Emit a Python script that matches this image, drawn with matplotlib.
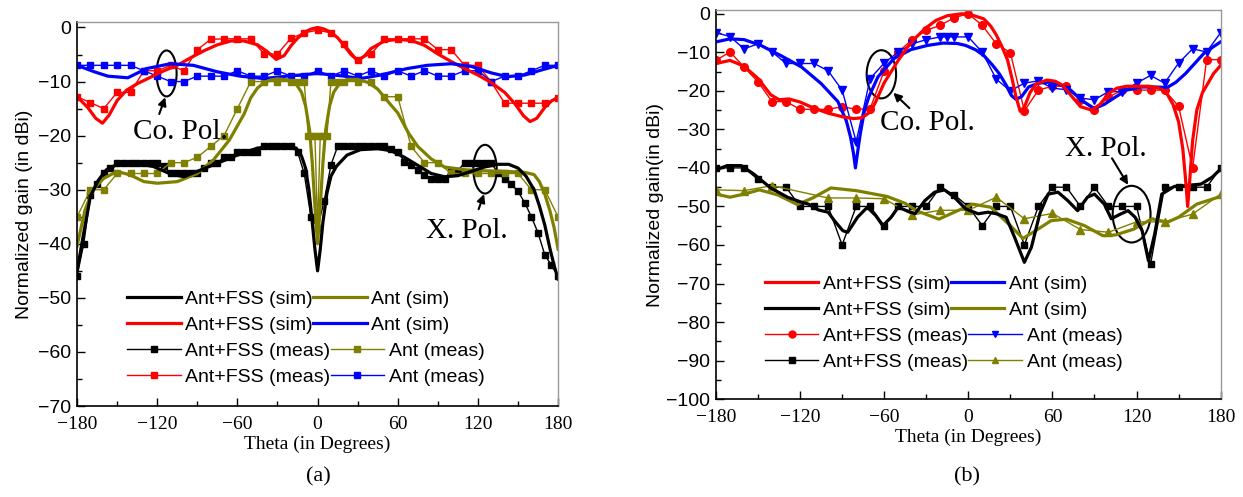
import matplotlib
matplotlib.use("Agg")
import matplotlib.pyplot as plt
from matplotlib.patches import Ellipse
from matplotlib.lines import Line2D
from matplotlib.legend import Legend

plt.rcParams['font.family'] = ['Liberation Sans', 'DejaVu Sans']
SERIF = ['Liberation Serif', 'DejaVu Serif']

RED = '#FF0000'
BLUE = '#0000FF'
BLACK = '#000000'
OLIVE = '#808000'

# ---------------- Panel (a) data ----------------
a_red_sim_th = [-180, -172, -166, -161, -156, -150, -143, -135, -125, -115, -105, -95, -85, -75, -65, -55, -45, -38, -31,
                -25, -20, -15, -10, -5, 0, 5, 10, 15, 20, 25, 30, 35, 40, 50, 60, 70, 80, 90, 100, 110, 120, 130, 140,
                148, 154, 159, 164, 170, 175, 180]
a_red_sim = [-12.8, -14.8, -16.8, -17.7, -16.2, -13.5, -11.6, -10.4, -9.2, -8.0, -7.0, -5.6, -4.3, -3.2, -2.5, -2.5, -3.2,
             -4.4, -5.9, -5.2, -3.4, -2.0, -0.9, -0.3, 0.0, -0.3, -0.9, -1.9, -3.4, -5.0, -6.1, -5.3, -3.9, -2.5, -2.2,
             -2.4, -3.3, -4.9, -6.3, -7.6, -8.8, -10.2, -12.0, -14.2, -16.3, -17.4, -16.8, -14.8, -13.6, -12.9]

a_blue_sim_th = [-180, -167, -157, -142, -128, -110, -93, -75, -58, -40, -23, 0, 20, 32, 47, 67, 82, 100, 115, 130, 142,
                 155, 167, 180]
a_blue_sim = [-7.0, -8.2, -9.0, -9.3, -7.6, -6.7, -7.0, -8.2, -9.0, -9.45, -9.0, -8.5, -9.0, -9.45, -8.8, -7.6, -7.0, -6.7,
              -7.2, -8.4, -9.1, -8.8, -7.9, -7.0]

a_black_sim_th = [-180, -175, -170, -164, -158, -148, -135, -123, -110, -100, -90, -75, -60, -45, -30, -16, -12, -9, -6.5,
                  -4, -2, 0, 2, 4, 7, 10, 14, 22, 32, 45, 55, 65, 75, 85, 95, 105, 115, 125, 135, 143, 150, 156, 162, 166,
                  170, 174, 177, 180]
a_black_sim = [-45.0, -38.0, -31.2, -28.2, -26.3, -25.1, -25.2, -25.7, -27.1, -27.6, -26.6, -25.1, -23.6, -22.3, -21.9,
               -22.3, -23.8, -26.0, -30.0, -36.0, -41.0, -45.0, -41.0, -36.0, -30.6, -27.5, -25.7, -23.6, -22.6, -22.4,
               -22.8, -24.0, -25.5, -27.0, -27.6, -27.4, -26.6, -25.8, -25.3, -25.3, -26.0, -27.5, -30.0, -33.0, -36.5,
               -41.0, -44.0, -46.5]

a_olive_sim_th = [-180, -174, -168, -160, -150, -140, -130, -120, -105, -90, -78, -66, -55, -50, -45, -40, -35, -30, -22,
                  -16, -12, -9, -6, -4, -2, 0, 2, 4, 6, 9, 12, 16, 22, 30, 38, 45, 52, 60, 68, 75, 85, 95, 110, 125, 140,
                  155, 162, 166, 170, 174, 177, 180]
a_olive_sim = [-40.4, -33.7, -29.9, -27.9, -26.6, -27.3, -28.5, -28.8, -28.5, -27.0, -24.5, -20.8, -16.0, -13.0, -11.2,
               -10.2, -9.7, -9.5, -9.7, -10.5, -12.0, -14.5, -19.0, -25.0, -33.0, -40.0, -33.0, -25.0, -19.0, -14.5,
               -12.0, -10.5, -9.6, -9.6, -10.2, -11.4, -13.5, -15.8, -19.5, -22.0, -24.3, -25.8, -26.3, -26.5, -26.6,
               -26.8, -27.2, -28.5, -30.8, -34.0, -37.0, -41.0]

a_meas10_th = [-180, -170, -160, -150, -140, -130, -120, -110, -100, -90, -80, -70, -60, -50, -40, -30, -20, -10, 0, 10,
               20, 30, 40, 50, 60, 70, 80, 90, 100, 110, 120, 130, 140, 150, 160, 170, 180]
a_red_meas = [-12.8, -13.9, -15.0, -12.0, -12.0, -8.0, -8.0, -7.0, -8.0, -4.1, -2.2, -2.1, -2.1, -2.1, -4.9, -4.9, -2.0,
              -1.0, -0.5, -1.0, -3.0, -6.0, -4.9, -2.1, -2.1, -2.1, -2.1, -4.1, -4.1, -7.0, -7.0, -10.1, -14.0, -14.0,
              -14.0, -14.0, -13.0]
a_blue_meas = [-7, -7, -7, -7, -7, -8, -9, -10, -10, -9, -9, -9, -8, -9, -9, -8, -9, -9, -8, -9, -8, -9, -8, -9, -8, -9,
               -8, -9, -9, -8, -8, -10, -9, -9, -8, -7, -7]

a_black_meas_th = [-180, -175, -170, -165, -160, -155, -150, -145, -140, -135, -130, -125, -120, -115, -110, -105, -100,
                   -95, -90, -85, -80, -75, -70, -65, -60, -55, -50, -45, -40, -35, -30, -25, -20, -15, -10, -5, 0, 5,
                   10, 15, 20, 25, 30, 35, 40, 45, 50, 55, 60, 65, 70, 75, 80, 85, 90, 95, 100, 105, 110, 115, 120, 125,
                   130, 135, 140, 145, 150, 155, 160, 165, 170, 175, 180]
a_black_meas = [-46, -40, -31, -29, -27, -26, -25, -25, -25, -25, -25, -25, -25, -25.7, -27, -27, -27, -27, -27, -26, -25,
                -25, -24, -24, -23, -23, -23, -23, -22, -22, -22, -22, -22, -23, -27, -35, -37, -32, -25.4, -22, -22,
                -22, -22, -22, -22, -22, -22, -22.5, -23, -24.8, -25.4, -26.3, -27.2, -28, -28, -28, -26.5, -26.5, -25,
                -25, -25, -25, -25, -27, -28, -29, -30.3, -32.4, -35, -38, -42, -44, -46]

a_olive_meas_th = [-180, -170, -160, -150, -140, -130, -120, -110, -100, -90, -80, -70, -60, -50, -40, -30, -20, -15,
                   -10, -7, -4, -2, 0, 2, 4, 7, 10, 15, 20, 30, 40, 50, 60, 70, 80, 90, 100, 110, 120, 130, 140, 150,
                   160, 170, 180]
a_olive_meas = [-35, -30, -30, -27, -27, -27, -27, -25, -25, -24, -22, -20, -15, -10, -10, -10, -10, -10, -10, -20, -20,
                -20, -37, -20, -20, -20, -10, -10, -10, -10, -10, -12.8, -12.8, -22, -25, -25, -27, -27, -27, -27, -27,
                -27, -30, -30, -35]

# ---------------- Panel (b) data ----------------
b_red_sim_th = [-180, -170, -160, -150, -141, -135, -128, -120, -110, -100, -90, -82, -76, -70, -66, -60, -55, -50, -43,
                -37, -30, -23, -15, -5, 0, 5, 11, 16, 20, 24, 28, 31, 34, 37, 40, 44, 48, 56, 62, 67, 74, 80, 88, 94,
                100, 106, 113, 121, 129, 136, 141, 146, 150, 153, 155, 156.5, 158, 160, 163, 167, 171, 175, 180]
b_red_sim = [-12.9, -12.1, -13.6, -16.8, -21.0, -22.3, -22.1, -22.9, -24.5, -25.8, -26.7, -27.2, -27.0, -25.5, -22.8,
             -17.9, -15.0, -12.1, -8.5, -6.0, -3.6, -1.7, -0.5, 0.0, -0.1, -0.6, -1.3, -3.2, -5.5, -8.5, -12.0, -16.5,
             -21.5, -25.3, -24.2, -20.5, -18.3, -17.2, -17.5, -18.5, -21.5, -24.1, -25.0, -23.5, -20.7, -19.3, -18.8,
             -18.8, -18.8, -19.3, -20.3, -23.5, -28.0, -35.0, -43.0, -50.0, -43.0, -33.0, -25.0, -20.5, -18.0, -15.5,
             -13.4]

b_blue_sim_th = [-180, -170, -160, -148, -134, -119, -105, -93, -87, -84, -82, -80.5, -79, -77, -74, -71, -64.5, -53,
                 -41, -29, -18, -8, -2, 5, 11, 17, 22, 27, 31, 34, 38, 43, 50, 59, 66, 73, 81, 90, 97, 105, 113, 123,
                 133, 142, 148, 155, 162, 168, 175, 180]
b_blue_sim = [-7.3, -6.5, -6.7, -8.2, -10.8, -13.8, -18.1, -22.8, -27.8, -32.0, -36.0, -40.0, -36.0, -31.0, -25.0, -21.6,
              -16.4, -11.6, -9.3, -8.2, -7.6, -7.7, -8.2, -9.3, -10.8, -13.2, -15.5, -18.5, -21.3, -22.2, -21.5, -19.0,
              -18.0, -17.7, -18.5, -19.8, -22.5, -24.6, -23.5, -21.6, -19.8, -19.0, -19.0, -19.1, -17.8, -15.5, -12.7,
              -10.3, -8.5, -7.3]

b_meas10_th = [-180, -170, -160, -150, -140, -130, -120, -110, -100, -90, -80, -70, -60, -50, -40, -30, -20, -10, 0, 10,
               20, 30, 40, 50, 60, 70, 80, 90, 100, 110, 120, 130, 140, 150, 160, 170, 180]
b_red_meas = [-12.1, -9.9, -13.8, -17.7, -22.8, -22.8, -24.8, -24.8, -24.8, -24.1, -24.8, -24.6, -14.8, -9.9, -6.7, -4.3,
              -3.0, -1.0, 0.0, -3.0, -7.8, -10.1, -25.2, -19.8, -18.8, -18.8, -22.4, -25.0, -21.6, -19.8, -19.8, -19.8,
              -19.8, -24.0, -40.0, -11.9, -11.9]
b_black_meas = [-40, -40, -40, -43, -45, -45, -50, -50, -50, -60, -50, -50, -55, -50, -50, -50, -45, -47, -50, -55, -50,
                -50, -60, -50, -45, -45, -50, -45, -50, -50, -50, -65, -45, -45, -45, -45, -40]

b_blue_meas_th = [-180, -170, -160, -150, -140, -130, -120, -110, -100, -90, -80, -70, -60, -50, -40, -30, -20, -15, -10,
                  0, 10, 20, 30, 40, 50, 60, 70, 80, 90, 100, 110, 120, 130, 140, 150, 160, 170, 180]
b_blue_meas = [-4.9, -5.9, -9.1, -7.8, -9.9, -12.9, -12.9, -12.9, -14.8, -19.8, -33.2, -16.8, -12.8, -9.9, -7.8, -6.7,
               -6.0, -6.0, -6.0, -6.0, -10.0, -17.0, -20.0, -18.0, -17.4, -19.3, -19.7, -21.9, -22.3, -20.2, -20.2,
               -18.0, -16.0, -18.0, -12.8, -9.1, -9.9, -4.9]

b_black_sim_th = [-180, -172, -162, -153, -141, -129, -119, -114, -107, -100, -95.5, -89.5, -86, -79, -72, -66, -61, -55,
                  -50, -44, -38, -31, -24, -17, -10, -2, 7, 14, 20, 27, 33, 40, 45, 51, 57, 64, 71, 78, 85, 90, 97, 102,
                  109, 114, 119, 124, 128.5, 133, 138, 147, 155, 166, 174, 180]
b_black_sim = [-40.5, -39.4, -39.4, -41.6, -45.2, -47.6, -48.9, -49.4, -50.9, -51.5, -53.7, -56.3, -56.7, -52.8, -50.2,
               -52.4, -55.0, -52.8, -50.2, -51.1, -51.9, -48.5, -46.3, -45.7, -47.6, -50.6, -51.9, -51.5, -51.9, -52.8,
               -58.0, -64.5, -60.6, -51.9, -46.8, -46.3, -48.5, -51.1, -47.6, -46.8, -49.4, -53.2, -51.9, -51.1, -52.8,
               -56.3, -64.1, -57.1, -46.8, -44.8, -44.6, -44.2, -42.4, -40.3]

b_olive_sim_th = [-180, -170, -160, -149, -136, -122, -111, -98, -80, -58, -45, -37, -21, -10, 3, 16, 30, 39, 48, 59,
                  70, 83, 96, 105, 118, 131, 142, 150, 163, 180]
b_olive_sim = [-46.8, -47.6, -46.8, -45.7, -47.0, -49.5, -47.8, -45.2, -45.9, -47.4, -49.2, -51.1, -53.3, -51.5, -49.4,
               -50.2, -55.0, -58.3, -56.3, -53.7, -53.3, -55.0, -57.6, -57.4, -55.9, -53.2, -54.1, -52.8, -49.4, -47.4]

b_olive_meas_th = [-180, -160, -140, -100, -80, -60, -40, -20, 0, 20, 40, 60, 80, 100, 120, 140, 160, 180]
b_olive_meas = [-45.7, -45.9, -44.6, -47.8, -47.8, -48.0, -52.2, -51.0, -51.0, -47.6, -53.2, -51.8, -56.0, -56.7, -54.0,
                -54.0, -52.0, -46.8]

x_ticks = [-180, -120, -60, 0, 60, 120, 180]
a_y_ticks = [0, -10, -20, -30, -40, -50, -60, -70]
b_y_ticks = [0, -10, -20, -30, -40, -50, -60, -70, -80, -90, -100]

SIM_LW = 2.3
MEAS_LW = 1.0
MS = 5


def style_axes(ax, ylim, yticks):
    ax.set_xlim(-180, 180)
    ax.set_ylim(*ylim)
    ax.set_xticks(x_ticks)
    ax.set_xticks(range(-150, 180, 60), minor=True)
    ax.set_yticks(yticks)
    ax.set_yticks([v - 5 for v in yticks[:-1]], minor=True)
    ax.tick_params(which='both', direction='in', top=False, right=False, width=1)
    ax.tick_params(which='major', length=6)
    ax.tick_params(which='minor', length=3.5)
    ax.tick_params(axis='y', labelsize=14, pad=4)
    ax.tick_params(axis='x', labelsize=14, pad=7)
    for lab in ax.get_xticklabels():
        lab.set_family(SERIF)
    for side in ('top', 'right'):
        ax.spines[side].set_color('#999999')
        ax.spines[side].set_linewidth(1.0)
    for side in ('left', 'bottom'):
        ax.spines[side].set_linewidth(1.2)
    ax.set_xlabel('Theta (in Degrees)', family=SERIF, fontsize=14, labelpad=2)


def row_legend(ax, handles, labels, x, y):
    leg = Legend(ax, handles, labels, ncol=2, loc='upper left', bbox_to_anchor=(x, y), bbox_transform=ax.transAxes,
                 frameon=False, fontsize=14, handlelength=2.75, handletextpad=0.25, columnspacing=0.0,
                 borderpad=0, borderaxespad=0, numpoints=1)
    ax.add_artist(leg)


def sim_handle(c):
    return Line2D([], [], color=c, lw=SIM_LW)


def meas_handle(c, m):
    return Line2D([], [], color=c, lw=MEAS_LW, marker=m, ms=MS)


ARROW = dict(arrowstyle='-|>', color='k', lw=1.5, mutation_scale=12, shrinkA=0, shrinkB=0)

fig = plt.figure(figsize=(12.43, 4.97), dpi=100)
axa = fig.add_axes([0.062, 0.183, 0.387, 0.7726])
axb = fig.add_axes([0.576, 0.197, 0.406, 0.783])

# ---- Panel (a)
axa.plot(a_meas10_th, a_red_meas, color=RED, lw=MEAS_LW, marker='s', ms=MS)
axa.plot(a_meas10_th, a_blue_meas, color=BLUE, lw=MEAS_LW, marker='s', ms=MS)
axa.plot(a_black_meas_th, a_black_meas, color=BLACK, lw=MEAS_LW, marker='s', ms=MS)
axa.plot(a_olive_meas_th, a_olive_meas, color=OLIVE, lw=MEAS_LW, marker='s', ms=MS)
axa.plot(a_red_sim_th, a_red_sim, color=RED, lw=SIM_LW)
axa.plot(a_blue_sim_th, a_blue_sim, color=BLUE, lw=SIM_LW)
axa.plot(a_olive_sim_th, a_olive_sim, color=OLIVE, lw=SIM_LW)
axa.plot(a_black_sim_th, a_black_sim, color=BLACK, lw=SIM_LW)
style_axes(axa, (-70, 1), a_y_ticks)
axa.set_ylabel('Normalized gain (in dBi)', fontsize=14, labelpad=4)

axa.add_patch(Ellipse((-113, -8.5), 15, 8.5, fill=False, ec='k', lw=1.5))
axa.annotate('', xy=(-114, -12.9), xytext=(-118.5, -16.0), arrowprops=ARROW)
axa.text(-138.5, -19.3, 'Co. Pol.', family=SERIF, fontsize=21, va='center', ha='left')
axa.add_patch(Ellipse((125.3, -26.2), 17.5, 9, fill=False, ec='k', lw=1.5))
axa.annotate('', xy=(124.6, -30.8), xytext=(120.5, -33.6), arrowprops=ARROW)
axa.text(81, -37.6, 'X. Pol.', family=SERIF, fontsize=21, va='center', ha='left')

rows_a = [
    ([sim_handle(BLACK), sim_handle(OLIVE)], ['Ant+FSS (sim)', 'Ant (sim)']),
    ([sim_handle(RED), sim_handle(BLUE)], ['Ant+FSS (sim)', 'Ant (sim)']),
    ([meas_handle(BLACK, 's'), meas_handle(OLIVE, 's')], ['Ant+FSS (meas)', 'Ant (meas)']),
    ([meas_handle(RED, 's'), meas_handle(BLUE, 's')], ['Ant+FSS (meas)', 'Ant (meas)']),
]
for i, (h, l) in enumerate(rows_a):
    row_legend(axa, h, l, 0.104, 0.302 - i * 0.0677)

# ---- Panel (b)
axb.plot(b_meas10_th, b_red_meas, color=RED, lw=MEAS_LW, marker='o', ms=MS + 0.5)
axb.plot(b_blue_meas_th, b_blue_meas, color=BLUE, lw=MEAS_LW, marker='v', ms=MS + 1)
axb.plot(b_meas10_th, b_black_meas, color=BLACK, lw=MEAS_LW, marker='s', ms=MS)
axb.plot(b_olive_meas_th, b_olive_meas, color=OLIVE, lw=MEAS_LW, marker='^', ms=MS + 1)
axb.plot(b_olive_sim_th, b_olive_sim, color=OLIVE, lw=SIM_LW)
axb.plot(b_black_sim_th, b_black_sim, color=BLACK, lw=SIM_LW)
axb.plot(b_blue_sim_th, b_blue_sim, color=BLUE, lw=SIM_LW)
axb.plot(b_red_sim_th, b_red_sim, color=RED, lw=SIM_LW)
style_axes(axb, (-100, 1), b_y_ticks)
axb.set_ylabel('Normalized gain(in dBi)', fontsize=14, labelpad=2)

axb.add_patch(Ellipse((-62, -15.7), 21, 12.5, fill=False, ec='k', lw=1.5))
axb.annotate('', xy=(-53.5, -20.5), xytext=(-42.0, -24.5), arrowprops=ARROW)
axb.text(-63, -28.4, 'Co. Pol.', family=SERIF, fontsize=21, va='center', ha='left')
axb.add_patch(Ellipse((116.5, -52), 27, 14.7, fill=False, ec='k', lw=1.5))
axb.annotate('', xy=(114.0, -44.4), xytext=(102.5, -37.5), arrowprops=ARROW)
axb.text(69, -35.0, 'X. Pol.', family=SERIF, fontsize=21, va='center', ha='left')

rows_b = [
    ([sim_handle(RED), sim_handle(BLUE)], ['Ant+FSS (sim)', 'Ant (sim)']),
    ([sim_handle(BLACK), sim_handle(OLIVE)], ['Ant+FSS (sim)', 'Ant (sim)']),
    ([meas_handle(RED, 'o'), meas_handle(BLUE, 'v')], ['Ant+FSS (meas)', 'Ant (meas)']),
    ([meas_handle(BLACK, 's'), meas_handle(OLIVE, '^')], ['Ant+FSS (meas)', 'Ant (meas)']),
]
for i, (h, l) in enumerate(rows_b):
    row_legend(axb, h, l, 0.097, 0.318 - i * 0.0665)

fig.text(318 / 1243, 1 - 477 / 497, '(a)', family=SERIF, fontsize=16, ha='center', va='center')
fig.text(967 / 1243, 1 - 477 / 497, '(b)', family=SERIF, fontsize=16, ha='center', va='center')

fig.savefig('out.png', dpi=100)
